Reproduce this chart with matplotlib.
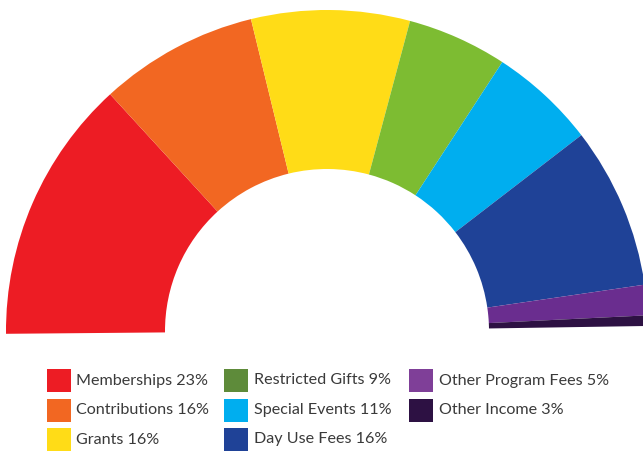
import matplotlib
matplotlib.use("Agg")
import matplotlib.pyplot as plt
from matplotlib.patches import Rectangle

# ---- data ----
categories = ["Memberships", "Contributions", "Grants", "Restricted Gifts",
              "Special Events", "Day Use Fees", "Other Program Fees", "Other Income"]
legend_pct = [23, 16, 16, 9, 11, 16, 5, 3]
# arc sizes (degrees of the half ring) as drawn in the picture
arc_deg = [48.0, 28.8, 28.7, 18.1, 19.3, 29.3, 5.5, 1.9]

arc_colors = ["#ed1c24", "#f26722", "#ffdc17", "#7dbc32",
              "#00aeef", "#1f4297", "#6a2d8f", "#2d1143"]
legend_colors = ["#ed1c24", "#f26722", "#ffdc17", "#5e8b3a",
                 "#00aeef", "#1f4297", "#7f3f98", "#2d1143"]

W, H = 643, 454
fig = plt.figure(figsize=(W / 100, H / 100), dpi=100)
ax = fig.add_axes([0, 0, 1, 1])

rest = 360 - sum(arc_deg)
vals = arc_deg + [rest]
cols = arc_colors + ["none"]
cx, cy, R = 327, 454 - 331, 321
wedges, _ = ax.pie(vals, colors=cols, startangle=180.5, counterclock=False,
                   center=(cx, cy), radius=R,
                   wedgeprops=dict(width=R - 162, linewidth=0, edgecolor="none"))
wedges[-1].set_visible(False)

ax.set_xlim(0, W)
ax.set_ylim(0, H)
ax.set_aspect("equal")
ax.axis("off")

# ---- legend ----
col_x = [46.5, 224, 409]
row_y = [380.5, 410, 439.5]  # centers (from top)
sq_w, sq_h = 24, 23
for i, (cat, pct) in enumerate(zip(categories, legend_pct)):
    c = i // 3
    r = i % 3
    x = col_x[c]
    yc = H - row_y[r]
    ax.add_patch(Rectangle((x, yc - sq_h / 2), sq_w, sq_h,
                           facecolor=legend_colors[i], edgecolor="none"))
    ax.text(x + sq_w + 6, yc, f"{cat} {pct}%", fontsize=11.6, family="Lato",
            color="#3a3a3a", va="center", ha="left")

fig.savefig("out.png", dpi=100)
